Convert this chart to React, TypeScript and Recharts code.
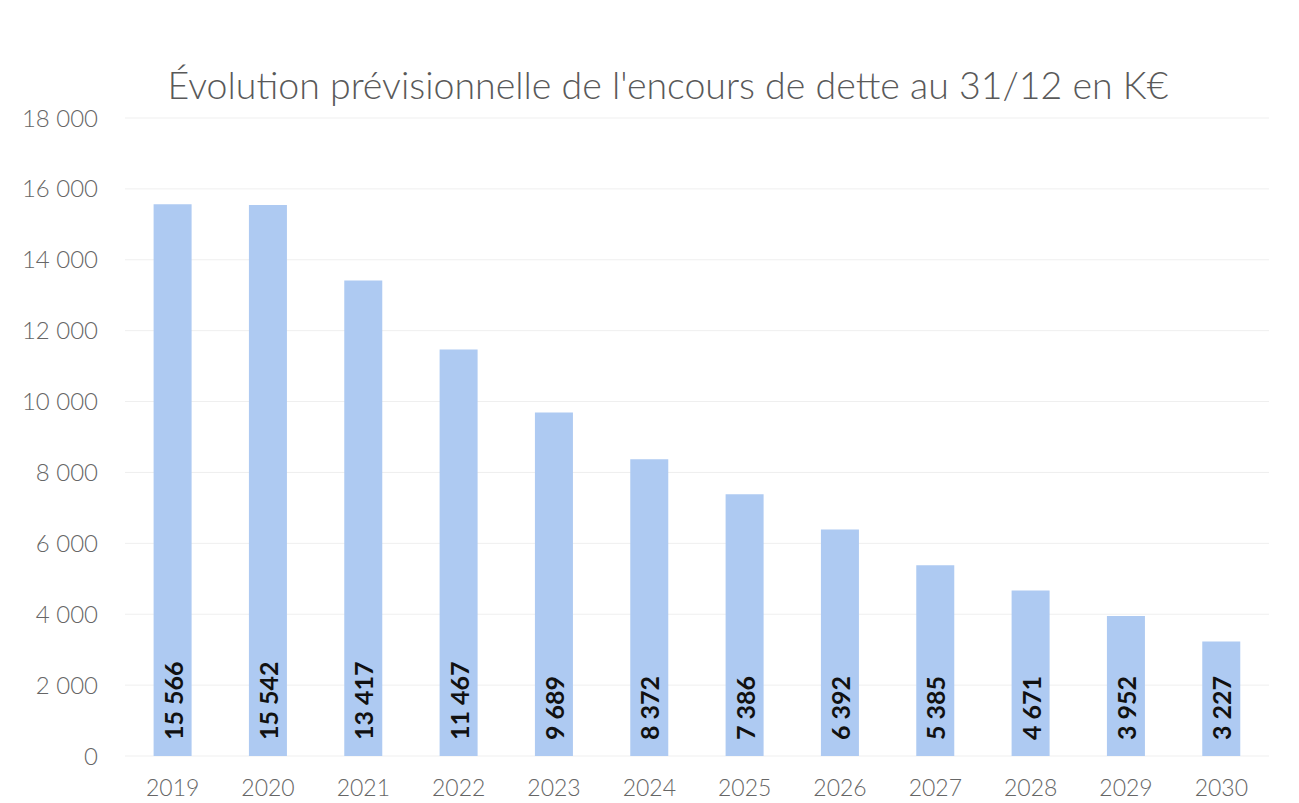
import React from "react";
import { BarChart, Bar, XAxis, YAxis, CartesianGrid, LabelList } from "recharts";

const years = ["2019", "2020", "2021", "2022", "2023", "2024", "2025", "2026", "2027", "2028", "2029", "2030"];
const encours = [15566, 15542, 13417, 11467, 9689, 8372, 7386, 6392, 5385, 4671, 3952, 3227];
const yTicks = [0, 2000, 4000, 6000, 8000, 10000, 12000, 14000, 16000, 18000];

const chartData = years.map((year, i) => ({ year, value: encours[i] }));

const fmt = (v: number) => String(v).replace(/\B(?=(\d{3})+(?!\d))/g, " ");

const FONT = "Lato, 'Open Sans', sans-serif";

// value written vertically at the foot of each bar
const BarValue = (props: any) => {
  const { x, y, width, height, value } = props;
  const cx = x + width / 2;
  const by = y + height - 16;
  return (
    <text
      x={cx}
      y={by}
      transform={`rotate(-90, ${cx}, ${by})`}
      textAnchor="start"
      dominantBaseline="central"
      fontSize={25}
      fontWeight={700}
      fill="#111"
      fontFamily={FONT}
    >
      {fmt(value)}
    </text>
  );
};

export default function App() {
  return (
    <div style={{ position: "relative", width: 1283, height: 795, background: "#fff", fontFamily: FONT }}>
      <div
        style={{
          position: "absolute",
          top: 54,
          left: 0,
          width: 1320,
          textAlign: "center",
          fontSize: 37.5,
          fontWeight: 300,
          color: "#595959",
          whiteSpace: "nowrap",
        }}
      >
        Évolution prévisionnelle de l'encours de dette au 31/12 en K€
      </div>
      <BarChart
        width={1283}
        height={795}
        data={chartData}
        margin={{ top: 110, right: 22, left: 17, bottom: 7 }}
        barCategoryGap="30%"
      >
        <CartesianGrid vertical={false} stroke="#efefef" />
        <XAxis
          dataKey="year"
          height={40}
          axisLine={false}
          tickLine={false}
          tickSize={0}
          tickMargin={24}
          tick={{ fontSize: 23, fontWeight: 300, fill: "#666", fontFamily: FONT }}
        />
        <YAxis
          width={100}
          domain={[0, 18000]}
          ticks={yTicks}
          axisLine={false}
          tickLine={false}
          tickSize={0}
          tickMargin={27}
          tickFormatter={fmt}
          tick={{ fontSize: 24, fontWeight: 300, fill: "#666", fontFamily: FONT }}
        />
        <Bar dataKey="value" fill="#aecaf2" isAnimationActive={false}>
          <LabelList dataKey="value" content={BarValue} />
        </Bar>
      </BarChart>
    </div>
  );
}
